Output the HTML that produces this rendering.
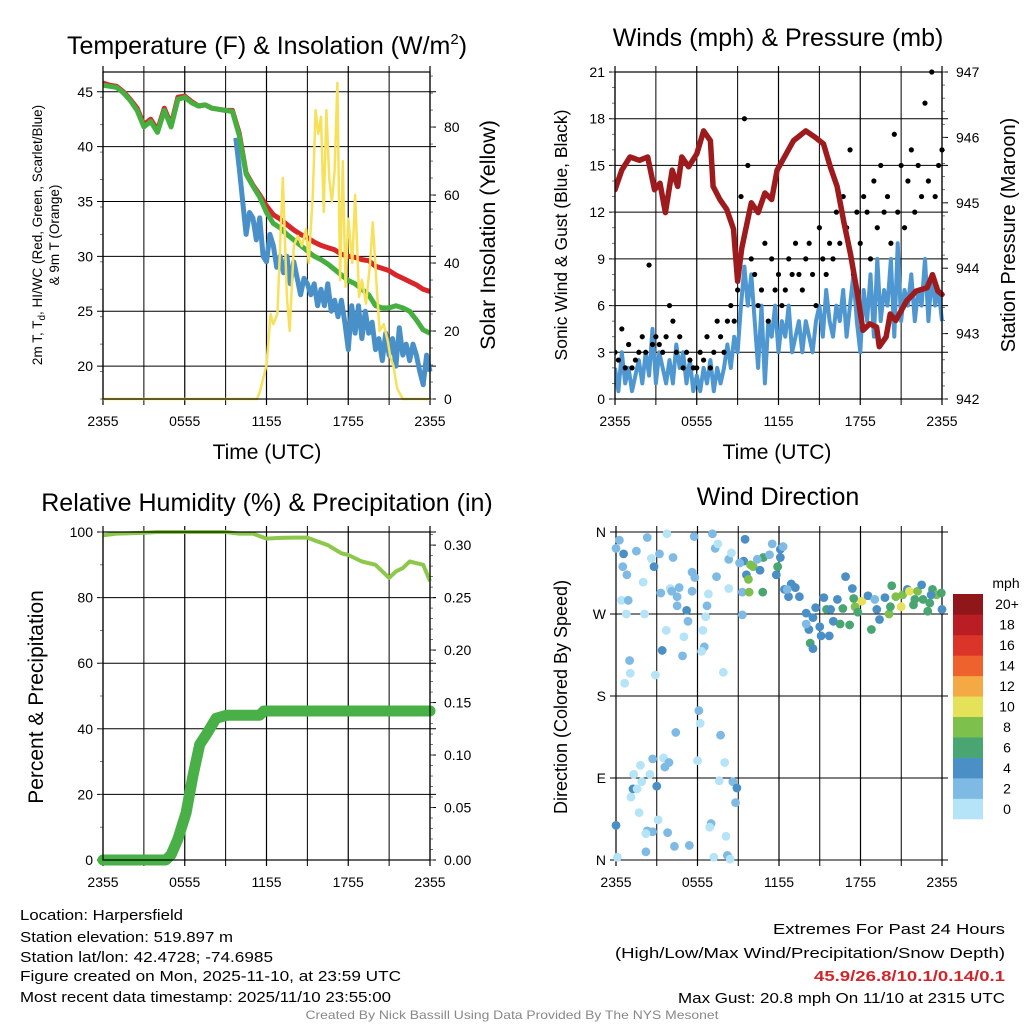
<!DOCTYPE html>
<html><head><meta charset="utf-8"><title>Harpersfield Meteogram</title>
<style>
html,body{margin:0;padding:0;background:#fff;}
svg{display:block;font-family:"Liberation Sans",Arial,sans-serif;}
</style></head>
<body>
<svg id="chart" xmlns="http://www.w3.org/2000/svg" width="1024" height="1024" viewBox="0 0 1024 1024"></svg>
<script>
// ---------- DATA ----------
const tempRed = [45.8,45.6,45.5,45.0,44.3,43.5,42.0,42.5,41.5,43.5,42.0,44.5,44.6,44.1,43.7,43.8,43.5,43.4,43.3,43.3,41.2,37.6,36.5,35.6,
 34.6,33.8,33.4,32.9,32.4,32.0,31.7,31.3,31.0,30.8,30.6,30.2,30.0,29.9,29.7,29.6,29.1,28.9,28.7,28.3,28.0,27.7,27.4,27.0,26.8];
const tempGreen = [45.6,45.5,45.4,44.9,44.2,43.3,41.8,42.3,41.3,43.3,41.8,44.3,44.5,44.0,43.7,43.8,43.5,43.4,43.3,43.2,41.0,37.5,36.4,35.4,
 34.0,33.0,32.6,32.0,31.5,31.0,30.5,30.0,29.7,29.3,28.8,28.3,27.8,27.5,27.0,26.5,25.5,25.3,25.3,25.5,25.3,25.0,24.2,23.3,23.0];
const dewTimes = [9.75,10,10.25,10.5,10.75,11,11.25,11.5,11.75,12,12.25,12.5,12.75,13,13.25,13.5,13.75,14,14.25,14.5,14.75,15,15.25,15.5,15.75,16,16.25,16.5,16.75,17,17.25,17.5,17.75,18,18.25,18.5,18.75,19,19.25,19.5,19.75,20,20.25,20.5,20.75,21,21.25,21.5,21.75,22,22.25,22.5,22.75,23,23.25,23.5,23.75,24];
const dewVals = [40.8,38,35,32,34,33.5,31.5,33.5,30,29.5,32,31,29,30,28.5,30,27.5,29.5,28,26.5,28,27.5,26.5,27.5,25.5,27,25.5,27.5,25,26,24.5,26,24,21.5,25.5,23,25.5,22.5,25,23,24,21.5,22.5,20.5,23,21,22.5,20,23.5,21,22,20.5,22,21,19.5,18.3,21,19.5];
const solarTimes = [0,11.3,11.5,12,12.3,12.5,12.8,13.2,13.5,13.7,14,14.3,14.6,14.9,15.1,15.4,15.6,15.8,16.0,16.2,16.4,16.6,16.8,17,17.2,17.4,17.6,17.8,18,18.3,18.5,18.8,19,19.3,19.6,19.8,20.1,20.3,20.6,20.9,21.1,21.3,21.6,22,24];
const solarVals = [0,0,2,10,25,22,25,65,30,20,45,48,45,50,40,60,85,78,83,55,85,65,58,67,93,35,70,33,53,40,60,30,35,28,40,52,32,20,22,17,12,10,3,0,0];
const xTickLabels = ["2355","0555","1155","1755","2355"];
const tempTicks = [20,25,30,35,40,45];
const solarTicks = [0,20,40,60,80];
const windVals = [2,0.5,3,1,2,0.5,1.5,2.5, 1,3,1.5,4.5,1,3,2,1, 2.5,1,3.5,2,3,1,2.5,0.5, 1.5,0.5,2,1,2.5,0.5,2,1,
 2,3.5,2,4,3,6,8.5,6, 8,5,2,6,1,5,4,6, 3,5,4,6,3,4,5,3, 5,4,3,5,6,4,7,5, 4,6,5,7,4,6,8,5, 3,7,5,8,4,9,5,7, 6,9,4,10,5,7,6,8, 5,7,6,9,5,8,6,7,5];
const gustVals = [3,2.5,4.5,2,3.5,2,2.5,3, 4,3,8.6,3.5,4,3.5,3,4, 6,5,3,4,2,3,2.5,2, 2,3,2.5,4,2,3,5,4,
 3,5,6,5,7,13,18,15, 9,8,6,7,10,5,9,7, 8,6,7,9,8,10,8,7, 9,10,8,6,11,9,8,10, 9,12,10,13,11,16,8,12,
 10,13,12,9,14,11,15,12, 13,10,17,12,15,11,14,16, 12,15,13,19,14,21,13,15,16];
const pressTimes = [0,0.5,1.1,1.8,2.4,2.9,3.3,3.7,4.2,4.6,4.9,5.4,6.0,6.5,7.0,7.2,7.7,8.2,8.7,9.0,9.3,10.0,10.5,11.0,11.5,11.9,12.3,13.1,14.0,14.7,15.3,15.8,16.3,16.8,17.3,17.8,18.2,18.7,19.2,19.4,19.9,20.2,20.6,21.4,22.1,22.9,23.3,23.7,24];
const pressVals = [945.2,945.5,945.7,945.65,945.7,945.2,945.3,944.85,945.5,945.25,945.7,945.55,945.75,946.1,945.95,945.25,945.05,944.9,944.6,943.8,944.3,945.0,944.85,945.15,945.05,945.5,945.65,945.95,946.1,946.0,945.9,945.55,945.25,944.7,944.2,943.6,943.05,943.15,943.1,942.8,942.95,943.3,943.2,943.5,943.65,943.7,943.9,943.65,943.6];
const windTicks = [0,3,6,9,12,15,18,21];
const pressTicks = [942,943,944,945,946,947];
const rhTimes = [0,1,2,3,4,5,6,7,8,9,10,11,12,13,14,15,15.5,16.5,17.5,18,19,20,21,21.5,22,22.5,23.5,24];
const rhVals = [99,99.5,99.6,99.8,100,100,100,100,100,100,99.5,99.5,98,98.2,98.3,98.3,97.5,96,93.5,93,91,90,86,88,89,91,90,85];
const precipTimes = [0,4.6,5.0,5.5,6.1,6.6,7.1,7.6,8.3,9.1,11.5,11.8,24];
const precipVals = [0,0,0.005,0.02,0.045,0.08,0.11,0.12,0.135,0.138,0.138,0.142,0.142];
const rhTicks = [0,20,40,60,80,100];
const precipTicks = [0,0.05,0.10,0.15,0.20,0.25,0.30];
const precipTickLabels = ["0.00","0.05","0.10","0.15","0.20","0.25","0.30"];
const dirTimes = [0,0.25,0.56,0.5,0.8,0.4,0.9,0.76,1.5,2.3,2.0,2.1,1.0,1.05,0.64,2.8,2.6,3.2,3.75,4.2,3.3,3.4,2.9,4.0,4.1,4.65,4.5,4.5,5.2,5.3,3.7,5.0,4.9,5.6,5.75,5.6,5.8,6.7,6.8,6.6,6.4,6.5,6.3,7.1,7.3,7.5,7.4,8.3,8.5,8.3,7.9,9.3,9.3,
 6.1,6.2,4.4,7.7,3.5,3.9,3.6,2.7,1.8,1.3,2.5,3.0,1.9,1.25,1.55,1.1,1.7,0,2.3,2.7,2.2,3.1,3.8,4.3,5.4,2.2,0.1,6.0,7.6,8.0,8.6,8.9,8.8,7.0,6.9,8.1,8.2,7.2,8.4,
 9.5,9.4,9.1,9.6,9.9,10.1,9.75,9.8,10.6,10.85,10.4,10.8,11.3,11.5,11.8,11.9,12.1,12.3,12.1,12.4,12.7,12.9,13.2,13.5,12.6,
 14.0,14.2,14.0,14.3,14.5,14.7,14.5,15.0,15.3,15.1,15.7,15.5,15.8,16.0,16.3,16.7,16.5,16.9,17.2,17.4,17.5,17.6,17.8,18.1,18.55,18.8,19.05,19.2,19.4,19.8,20.1,20.2,20.3,20.6,21.0,21.1,21.45,21.6,21.9,22.2,22.5,22.6,22.95,23.1,23.3,23.6,24,23.95,23.2,22.0];
const dirVals = [342,351,336,322,313,285,285,270,339,354,305,270,219,205,194,322,331,336,358,332,293,230,203,298,295,299,289,279,274,262,252,245,224,295,355,316,310,279,292,267,252,234,229,358,342,347,311,330,337,298,206,294,269,
 164,150,140,137,112,107,102,111,104,94,94,81,86,78,78,69,52,38,32,31,29,44,30,15,16,9,3,109,87,107,86,79,63,40,36,26,5,3,1,
 352,328,326,313,324,322,308,294,318,332,330,294,335,347,313,322,341,344,332,297,289,303,299,289,297,
 271,253,259,238,232,277,266,256,288,246,246,275,275,262,286,276,259,311,258,298,287,278,272,284,290,253,286,275,264,288,270,278,301,289,278,291,297,295,280,295,302,286,273,282,297,291,275,293,291,286];
const dirSpeeds = [3,3,5,3,3,1,3,1,3,3,1,1,3,1,1,5,1,3,1,3,3,5,1,1,3,3,3,3,5,3,1,1,3,3,3,3,3,3,1,1,1,3,1,3,3,1,3,3,1,1,1,3,3,
 3,1,3,3,1,3,3,3,1,1,1,5,1,5,1,1,1,5,3,3,1,1,3,3,3,3,1,1,1,1,3,5,3,3,1,1,3,1,1,
 5,5,3,5,9,9,9,9,5,7,3,7,3,3,5,7,5,3,5,5,5,5,5,5,3,
 5,5,3,7,5,5,5,5,5,5,5,7,5,5,5,7,7,5,7,5,7,9,7,10.5,5,7,3,5,5,5,9,7,7,9,10.5,9,5,10.5,7,9,5,7,7,7,7,9,5,7,5,7];
const dirTickLabels = ["N","E","S","W","N"];
const speedBinLabels = ["0","2","4","6","8","10","12","14","16","18","20+"];
const speedColors = ["#b5e3f8","#7ebae3","#4a8fc6","#49a571","#7dc04b","#e5e158","#f4a945","#ee632d","#db3428","#bb1d25","#8f1619"];

// ---------- HELPERS ----------
const NS = "http://www.w3.org/2000/svg";
const svg = document.getElementById("chart");
function mk(tag, parent, attrs) {
  const e = document.createElementNS(NS, tag);
  for (const k in attrs) e.setAttribute(k, attrs[k]);
  parent.appendChild(e);
  return e;
}
function txt(parent, x, y, s, size, anchor, extra) {
  const t = mk("text", parent, Object.assign({x: x, y: y, "font-size": size, "text-anchor": anchor || "middle", fill: "#000"}, extra || {}));
  t.textContent = s;
  return t;
}
function panel(x0, x1, y0, y1) {
  return {x0, x1, y0, y1,
    tx: t => x0 + t / 24 * (x1 - x0),
    sy: (v, lo, hi) => y1 - (v - lo) / (hi - lo) * (y1 - y0)};
}
function pathFrom(xs, ys) {
  let d = "";
  for (let i = 0; i < xs.length; i++) d += (i ? "L" : "M") + xs[i].toFixed(1) + " " + ys[i].toFixed(1);
  return d;
}
function timeGrid(g, P, yLabel) {
  for (let h = 0; h <= 24; h += 3) {
    const x = P.tx(h);
    const gl = mk("line", g, {x1: x, x2: x, y1: P.y0 - 6, y2: P.y1 + 6, stroke: "#000", "stroke-width": h % 6 === 0 ? 1.2 : 1});
    
    
  }
  for (let i = 0; i < xTickLabels.length; i++) {
    const lt = txt(g, P.tx(i * 6), yLabel, xTickLabels[i], 14);
    
    
  }
}
function hGrid(g, P, ticks, lo, hi, labels, side, fmt, minorStep, extend) {
  for (let i = 0; i < ticks.length; i++) {
    const y = P.sy(ticks[i], lo, hi);
    if (extend) {
      const gl = mk("line", g, {x1: P.x0 - 6, x2: P.x1 + 6, y1: y, y2: y, stroke: "#000", "stroke-width": 1});
      
      
    } else {
      const x = side === "left" ? P.x0 : P.x1;
      const tk = mk("line", g, {x1: x, x2: side === "left" ? x - 6 : x + 6, y1: y, y2: y, stroke: "#000", "stroke-width": 1});
      
      
    }
    const lab = labels ? labels[i] : String(ticks[i]);
    const lt = side === "left" ? txt(g, P.x0 - 10, y + 5, lab, 14, "end") : txt(g, P.x1 + 14, y + 5, lab, 14, "start");
    
    
  }
  if (minorStep) {
    for (let v = lo; v <= hi + 1e-9; v += minorStep) {
      const y = P.sy(v, lo, hi);
      const x = side === "left" ? P.x0 : P.x1;
      const mt = mk("line", g, {x1: x, x2: side === "left" ? x - 3 : x + 3, y1: y, y2: y, stroke: "#555", "stroke-width": 0.8});
      
      
    }
  }
}
function frame(g, P) {
  const r = mk("rect", g, {x: P.x0, y: P.y0, width: P.x1 - P.x0, height: P.y1 - P.y0, fill: "none", stroke: "#000", "stroke-width": 1.2});
  
  
}
function clip(id, P) {
  const cp = mk("clipPath", svg, {id: id});
  mk("rect", cp, {x: P.x0, y: P.y0 - 3, width: P.x1 - P.x0 + 4, height: P.y1 - P.y0 + 6});
}

// ---------- PANEL 1: Temperature ----------
const P1 = panel(103, 430, 72, 399);
const T_LO = 17.0, T_HI = 46.8, S_LO = 0, S_HI = 96.2;
const g1 = mk("g", svg, {});


timeGrid(g1, P1, 426);
hGrid(g1, P1, tempTicks, T_LO, T_HI, null, "left", null, 2.5, true);
hGrid(g1, P1, solarTicks, S_LO, S_HI, null, "right", null, 5, false);
clip("c1", P1);
const s1 = mk("g", g1, {"clip-path": "url(#c1)"});
const dewPath = mk("path", s1, {d: pathFrom(dewTimes.map(P1.tx), dewVals.map(v => P1.sy(v, T_LO, T_HI))), fill: "none", stroke: "#4a90c8", "stroke-width": 5, "stroke-linejoin": "round"});


const redPath = mk("path", s1, {d: pathFrom(tempRed.map((v, i) => P1.tx(i * 0.5)), tempRed.map(v => P1.sy(v, T_LO, T_HI))), fill: "none", stroke: "#d8262b", "stroke-width": 5, "stroke-linejoin": "round"});


const greenPath = mk("path", s1, {d: pathFrom(tempGreen.map((v, i) => P1.tx(i * 0.5)), tempGreen.map(v => P1.sy(v, T_LO, T_HI))), fill: "none", stroke: "#45b040", "stroke-width": 5, "stroke-linejoin": "round"});


const solarPath = mk("path", s1, {d: pathFrom(solarTimes.map(P1.tx), solarVals.map(v => P1.sy(v, S_LO, S_HI))), fill: "none", stroke: "#f7e15a", "stroke-width": 2.5, "stroke-linejoin": "round"});


frame(g1, P1);
const t1 = mk("text", g1, {x: 267, y: 54, "font-size": 25, "text-anchor": "middle"});
t1.innerHTML = 'Temperature (F) &amp; Insolation (W/m<tspan dy="-10" font-size="15">2</tspan><tspan dy="10">)</tspan>';


const yl1 = mk("text", g1, {transform: "translate(42,235) rotate(-90)", "font-size": 13.5, "text-anchor": "middle"});
yl1.innerHTML = '2m T, T<tspan dy="3" font-size="10">d</tspan><tspan dy="-3">, HI/WC (Red, Green, Scarlet/Blue)</tspan>';


const yl1b = txt(g1, 0, 0, "& 9m T (Orange)", 13.5, "middle", {transform: "translate(59,235) rotate(-90)"});


const yr1 = txt(g1, 0, 0, "Solar Insolation (Yellow)", 21.5, "middle", {transform: "translate(495,235) rotate(-90)"});


const xl1 = txt(g1, 267, 459, "Time (UTC)", 21);



// ---------- PANEL 2: Winds & Pressure ----------
const P2 = panel(615, 942, 72, 399);
const W_LO = 0, W_HI = 21, PR_LO = 942, PR_HI = 947;
const g2 = mk("g", svg, {});


timeGrid(g2, P2, 426);
hGrid(g2, P2, windTicks, W_LO, W_HI, null, "left", null, 1, true);
hGrid(g2, P2, pressTicks, PR_LO, PR_HI, null, "right", null, 0.2, false);
clip("c2", P2);
const s2 = mk("g", g2, {"clip-path": "url(#c2)"});
const windPath = mk("path", s2, {d: pathFrom(windVals.map((v, i) => P2.tx(i * 0.25)), windVals.map(v => P2.sy(v, W_LO, W_HI))), fill: "none", stroke: "#4f97d0", "stroke-width": 4, "stroke-linejoin": "round"});


for (let i = 0; i < gustVals.length; i++) {
  const c = mk("circle", s2, {cx: P2.tx(i * 0.25), cy: P2.sy(gustVals[i], W_LO, W_HI), r: 2.6, fill: "#000"});
  
  
}
const pressPath = mk("path", s2, {d: pathFrom(pressTimes.map(P2.tx), pressVals.map(v => P2.sy(v, PR_LO, PR_HI))), fill: "none", stroke: "#9e1b1d", "stroke-width": 5.5, "stroke-linejoin": "round", "stroke-linecap": "round"});


frame(g2, P2);
const t2 = txt(g2, 778, 46, "Winds (mph) & Pressure (mb)", 25);


const yl2 = txt(g2, 0, 0, "Sonic Wind & Gust (Blue, Black)", 17.5, "middle", {transform: "translate(567,235) rotate(-90)"});


const yr2 = txt(g2, 0, 0, "Station Pressure (Maroon)", 20, "middle", {transform: "translate(1015,235) rotate(-90)"});


const xl2 = txt(g2, 777, 459, "Time (UTC)", 21);



// ---------- PANEL 3: RH & Precip ----------
const P3 = panel(103, 430, 532, 860);
const RH_LO = 0, RH_HI = 100, PC_LO = 0, PC_HI = 0.3125;
const g3 = mk("g", svg, {});


timeGrid(g3, P3, 887);
hGrid(g3, P3, rhTicks, RH_LO, RH_HI, null, "left", null, 10, true);
hGrid(g3, P3, precipTicks, PC_LO, PC_HI, precipTickLabels, "right", null, 0.01, false);
const s3 = mk("g", g3, {});
const rhPath = mk("path", s3, {d: pathFrom(rhTimes.map(P3.tx), rhVals.map(v => P3.sy(v, RH_LO, RH_HI))), fill: "none", stroke: "#8dc84c", "stroke-width": 4, "stroke-linejoin": "round"});


const pcPath = mk("path", s3, {d: pathFrom(precipTimes.map(P3.tx), precipVals.map(v => P3.sy(v, PC_LO, PC_HI))), fill: "none", stroke: "#48b046", "stroke-width": 11, "stroke-linejoin": "round", "stroke-linecap": "round"});


frame(g3, P3);
const t3 = txt(g3, 267, 511, "Relative Humidity (%) & Precipitation (in)", 25);


const yl3 = txt(g3, 0, 0, "Percent & Precipitation", 21, "middle", {transform: "translate(43,697) rotate(-90)"});



// ---------- PANEL 4: Wind Direction ----------
const P4 = panel(616, 942, 532, 860);
const D_LO = 0, D_HI = 360;
const g4 = mk("g", svg, {});


timeGrid(g4, P4, 887);
hGrid(g4, P4, [0, 90, 180, 270, 360], D_LO, D_HI, dirTickLabels, "left", null, 0, true);
const s4 = mk("g", g4, {});
for (let i = 0; i < Math.min(dirTimes.length, dirVals.length, dirSpeeds.length); i++) {
  const bin = Math.min(10, Math.floor(dirSpeeds[i] / 2));
  const c = mk("circle", s4, {cx: P4.tx(dirTimes[i]), cy: P4.sy(dirVals[i], D_LO, D_HI), r: 4.4, fill: speedColors[bin]});
  
  
}
const t4 = txt(g4, 778, 505, "Wind Direction", 25);


const yl4 = txt(g4, 0, 0, "Direction (Colored By Speed)", 18, "middle", {transform: "translate(567,697) rotate(-90)"});


const cb = mk("g", svg, {});


const CB_TOP = 594, CB_BOT = 819, CB_X = 953, CB_W = 30;
const segH = (CB_BOT - CB_TOP) / speedColors.length;
for (let i = 0; i < speedColors.length; i++) {
  const y = CB_BOT - (i + 1) * segH;
  const r = mk("rect", cb, {x: CB_X, y: y, width: CB_W, height: segH + 0.3, fill: speedColors[i]});
  
  
  const l = txt(cb, 1007, y + segH / 2 + 5, speedBinLabels[i], 14);
  
  
}
const mph = txt(cb, 1006, 588, "mph", 14);



// ---------- FOOTER ----------
const ft = mk("g", svg, {});


const leftLines = ["Location: Harpersfield", "Station elevation: 519.897 m", "Station lat/lon: 42.4728; -74.6985", "Figure created on Mon, 2025-11-10, at 23:59 UTC", "Most recent data timestamp: 2025/11/10 23:55:00"];
const leftW = [163, 213, 253, 381, 371];
const leftY = [920, 942, 962, 981, 1002];
for (let i = 0; i < leftLines.length; i++) {
  const t = txt(ft, 20, leftY[i], leftLines[i], 14.5, "start", {textLength: leftW[i], lengthAdjust: "spacingAndGlyphs"});
  
  
}
const ex1 = txt(ft, 1005, 934, "Extremes For Past 24 Hours", 14.5, "end", {textLength: 232, lengthAdjust: "spacingAndGlyphs"});


const ex2 = txt(ft, 1005, 958, "(High/Low/Max Wind/Precipitation/Snow Depth)", 14.5, "end", {textLength: 390, lengthAdjust: "spacingAndGlyphs"});


const ex3 = txt(ft, 1005, 981, "45.9/26.8/10.1/0.14/0.1", 14.5, "end", {fill: "#d0262b", "font-weight": "bold", textLength: 191, lengthAdjust: "spacingAndGlyphs"});


const ex4 = txt(ft, 1005, 1003, "Max Gust: 20.8 mph On 11/10 at 2315 UTC", 14.5, "end", {textLength: 327, lengthAdjust: "spacingAndGlyphs"});


const cr = txt(ft, 512, 1019, "Created By Nick Bassill Using Data Provided By The NYS Mesonet", 12, "middle", {fill: "#888", textLength: 413, lengthAdjust: "spacingAndGlyphs"});


</script>
</body></html>
